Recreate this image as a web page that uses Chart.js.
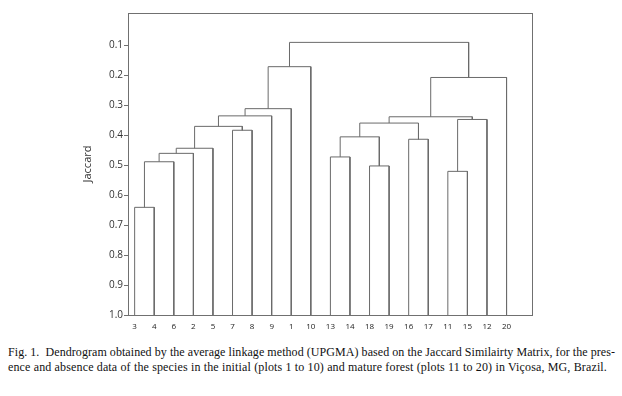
<!DOCTYPE html>
<html>
<head>
<meta charset="utf-8">
<script src="https://cdn.jsdelivr.net/npm/chart.js@4.4.1/dist/chart.umd.min.js"></script>
<style>
  html, body { margin: 0; padding: 0; background: #fff; }
  #wrap { position: relative; width: 622px; height: 396px; overflow: hidden; }
  #c { position: absolute; left: 0; top: 0; }
  .cap { position: absolute; left: 8px; font-family: "Liberation Serif", "Times New Roman", Times, serif; font-size: 12px; color: #111; white-space: pre; line-height: 15px; }
</style>
</head>
<body>
<div id="wrap">
  <canvas id="c" width="622" height="340"></canvas>
  <div class="cap" id="cap1" style="top:345px">Fig. 1.  Dendrogram obtained by the average linkage method (UPGMA) based on the Jaccard Similairty Matrix, for the pres-</div>
  <div class="cap" id="cap2" style="top:360px">ence and absence data of the species in the initial (plots 1 to 10) and mature forest (plots 11 to 20) in Viçosa, MG, Brazil.</div>
</div>
<script>
// Leaves in dendrogram order (plot numbers)
const leafLabels = ['3','4','6','2','5','7','8','9','1','10','13','14','18','19','16','17','11','15','12','20'];
// Merges: node ids 0..19 are leaves; merge k creates node 20+k
const mergeLeft   = [0, 20, 21, 22, 5, 23, 25, 26, 27, 12, 10, 30, 14, 31, 16, 34, 33, 36, 28];
const mergeRight  = [1,  2,  3,  4, 6, 24,  7,  8,  9, 13, 11, 29, 15, 32, 17, 18, 35, 19, 37];
const mergeHeight = [0.641, 0.489, 0.461, 0.444, 0.384, 0.371, 0.336, 0.312, 0.172, 0.503, 0.473, 0.406, 0.414, 0.360, 0.521, 0.348, 0.339, 0.208, 0.091];
// Jaccard axis tick labels
const yTickValues = [0.1, 0.2, 0.3, 0.4, 0.5, 0.6, 0.7, 0.8, 0.9, 1.0];
const yTickLabels = ['0.1','0.2','0.3','0.4','0.5','0.6','0.7','0.8','0.9','1.0'];

// fit caption lines to the reference widths
function fitLine(id, target) {
  const el = document.getElementById(id);
  const w = el.getBoundingClientRect().width;
  const n = el.textContent.length;
  if (n > 1) el.style.letterSpacing = ((target - w) / n) + 'px';
}
fitLine('cap1', 607);
fitLine('cap2', 599);

const nLeaves = leafLabels.length;
const nodeX = [], nodeH = [];
for (let i = 0; i < nLeaves; i++) { nodeX.push(i); nodeH.push(1.0); }
const datasets = [];
const lineColor = '#6a6a6a';
for (let k = 0; k < mergeLeft.length; k++) {
  const a = mergeLeft[k], b = mergeRight[k], h = mergeHeight[k];
  datasets.push({
    data: [{x: nodeX[a], y: nodeH[a]}, {x: nodeX[a], y: h}, {x: nodeX[b], y: h}, {x: nodeX[b], y: nodeH[b]}],
    showLine: true, borderColor: lineColor, borderWidth: 1, pointRadius: 0, tension: 0, fill: false
  });
  nodeX.push((nodeX[a] + nodeX[b]) / 2);
  nodeH.push(h);
}

const framePlugin = {
  id: 'frame',
  afterDraw(chart) {
    const a = chart.chartArea, ctx = chart.ctx;
    ctx.save();
    ctx.strokeStyle = '#707070';
    ctx.lineWidth = 1;
    ctx.strokeRect(Math.round(a.left) + 0.5, Math.round(a.top) + 0.5, Math.round(a.right - a.left), Math.round(a.bottom - a.top));
    ctx.restore();
  }
};

new Chart(document.getElementById('c'), {
  type: 'scatter',
  data: { datasets },
  plugins: [framePlugin],
  options: {
    responsive: false,
    animation: false,
    events: [],
    layout: { padding: { left: 0, right: 90, top: 13, bottom: 0 } },
    plugins: { legend: { display: false }, tooltip: { enabled: false } },
    scales: {
      x: {
        type: 'linear', min: -0.34, max: 20.3,
        afterBuildTicks(s) { s.ticks = leafLabels.map((_, i) => ({ value: i })); },
        afterFit(s) { s.height = 25; },
        ticks: {
          autoSkip: false, maxRotation: 0, padding: 7,
          font: { family: 'Open Sans', size: 8 }, color: '#222',
          callback: (v) => leafLabels[v]
        },
        grid: { display: false, drawTicks: false },
        border: { display: false }
      },
      y: {
        type: 'linear', reverse: true, min: -0.007, max: 1.0,
        afterBuildTicks(s) { s.ticks = yTickValues.map(v => ({ value: v })); },
        afterFit(s) { s.width = 128; },
        ticks: {
          padding: 1, font: { family: 'Open Sans', size: 10 }, color: '#333',
          callback: (v, i) => yTickLabels[i]
        },
        grid: { drawOnChartArea: false, drawTicks: true, tickLength: 4, color: '#707070' },
        border: { display: false },
        title: { display: true, text: 'Jaccard', padding: { top: 81, bottom: 0 }, font: { family: 'Open Sans', size: 11 }, color: '#333' }
      }
    }
  }
});
</script>
</body>
</html>
